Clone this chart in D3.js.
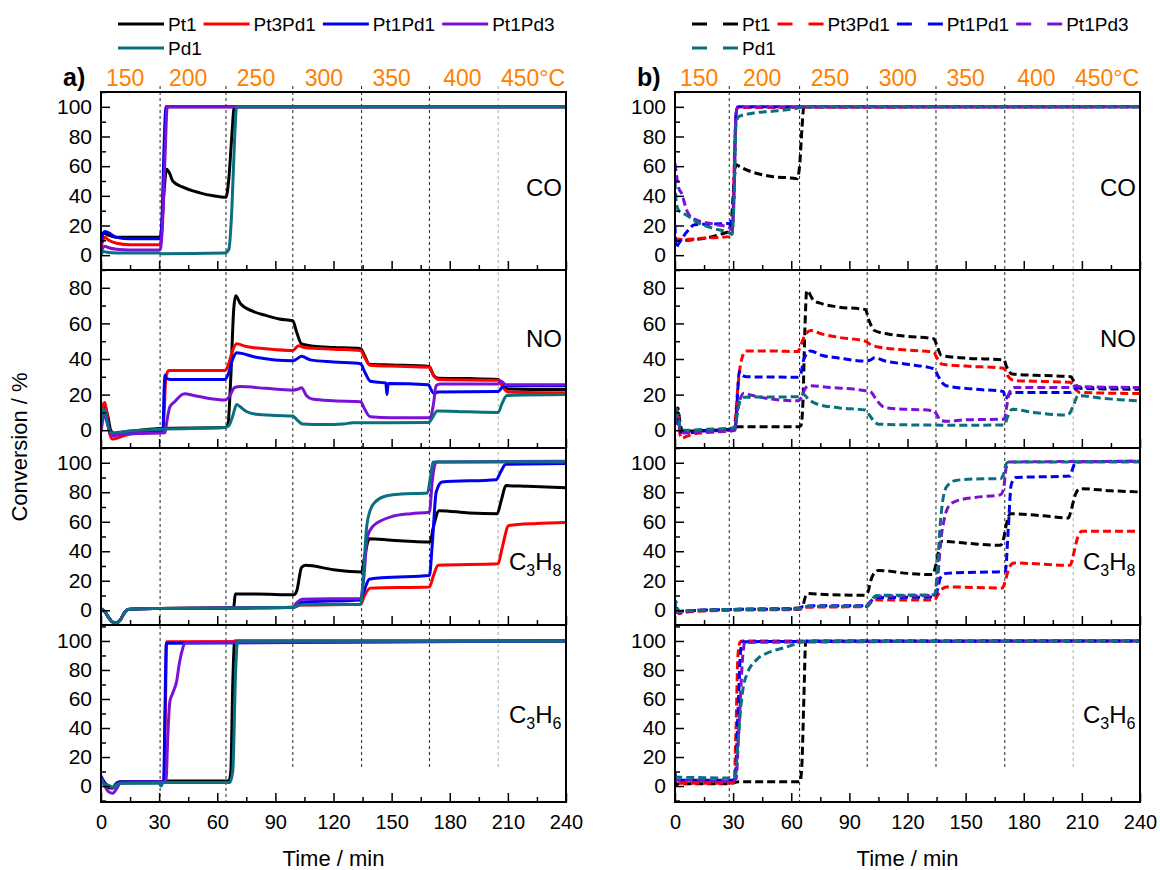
<!DOCTYPE html>
<html>
<head>
<meta charset="utf-8">
<script src="https://cdn.jsdelivr.net/npm/d3@7"></script>
<style>
  body { margin: 0; background: #fff; }
  svg { font-family: Arial, "Liberation Sans", sans-serif; }
</style>
</head>
<body>
<svg id="chart" width="1160" height="870"></svg>
<script>
// ---- data (time in min, conversion in %) ----

var seriesNames = ["Pt1", "Pt3Pd1", "Pt1Pd1", "Pt1Pd3", "Pd1"]
var seriesColors = ["#000000", "#ff0000", "#0000f0", "#7a12d6", "#0a7080"]

var timeTicks = [0, 30, 60, 90, 120, 150, 180, 210, 240]
var tempLabels = ["150", "200", "250", "300", "350", "400", "450°C"]
var tempAt = [12.5, 45, 80, 115, 150, 186.5, 223]   // minutes where each label sits

// dashed separators between temperature steps
var stepsA = [30.5, 64.5, 99, 134.5, 169.5, 205]
var stepsB = [28, 64.3, 99.2, 134.7, 170.2, 205.5]

// panel a) solid lines
var a_CO_Pt1 = [[0,10],[1,15],[3,14],[8,12],[15,12],[30,12],[31,14],[32.5,42],[33.8,58],[35.5,55],[37,50],[42,46],[51,42],[58,40],[64.5,39],[66,52],[67.5,80],[68.8,100],[240,100]]
var a_CO_Pt3Pd1 = [[0,5],[1,10],[2,12],[4,10],[8,8],[15,7],[30.5,7],[31.5,20],[32.8,70],[33.8,100],[240,100]]
var a_CO_Pt1Pd1 = [[0,8],[1,14],[2,16],[4,15],[8,12],[15,11],[30.5,11],[31.5,25],[32.6,75],[33.5,100],[240,100]]
var a_CO_Pt1Pd3 = [[0,2],[1,5],[2,6],[4,5],[8,4],[15,3.5],[30.5,3.5],[31.5,15],[33,65],[34.2,100],[240,100]]
var a_CO_Pd1 = [[0,0],[1,2.5],[3,2],[8,1.5],[30,1.5],[31,1],[64,1.5],[66,4],[67.5,30],[69,80],[70,100],[240,100]]

var a_NO_Pt1 = [[0,5],[1,12],[2,13],[3.5,8],[5,0],[7,-2],[12,-1],[20,0],[30,1],[64,1.5],[65.5,3],[67,30],[68.5,68],[69.5,75.5],[72,71],[78,67],[85,64.5],[92,62.5],[99,61.5],[101,55],[103.5,48.5],[110,47.2],[120,46.5],[134,45.8],[136,42],[138.5,37],[150,36.6],[169.5,35.8],[171.5,31],[174,29.2],[190,29],[205,28.5],[207,26],[210,23.2],[240,22.8]]
var a_NO_Pt3Pd1 = [[0,8],[1,14],[2,15.5],[3,10],[4.5,-2],[6,-5],[8,-4.5],[12,-3],[18,-1.5],[25,-0.8],[32,0],[32.6,10],[33.5,30],[35,33.5],[64,33.5],[65.5,36],[68,45],[70,48.5],[75,47],[85,45.8],[99,44.8],[102,47.5],[105,46.5],[120,45.5],[134,44.8],[136,41],[139,36.5],[150,36],[169.5,35.3],[171.5,31],[174,28.5],[205,28],[207,25],[210,21.5],[240,21]]
var a_NO_Pt1Pd1 = [[0,3],[1,8],[2,10],[3,7],[4.5,0],[6,-2],[10,-1.5],[20,-0.5],[32,0],[32.5,20],[33,31],[34,29],[36,28.5],[64,28.5],[65.5,31],[68,40],[70,43.5],[80,41],[99,39],[101,40],[103.5,41.5],[108,39.5],[120,38.3],[134,37.3],[136,33],[139,27.5],[147,26.5],[147.6,20],[148.2,26.2],[169,25.5],[170.5,22.5],[172,20.5],[174,21.5],[205,21.8],[207,24],[210,25],[240,25]]
var a_NO_Pt1Pd3 = [[0,-1],[1,6],[2,9],[3,5],[4.5,-1],[6,-3],[10,-2.5],[20,-1.8],[33,-1.5],[34,5],[35.5,13],[38,16],[43,20.5],[48,19.5],[55,18],[64,17],[66,18.5],[69,24],[72,24.5],[85,23.5],[99,22.5],[101.5,23],[103.5,23.8],[106,19.5],[109,17.5],[120,16.5],[134,16],[136,12],[139,7.5],[150,7],[170,7],[171.5,14],[173,25],[175,26],[205,26],[206.5,27.5],[209,25.5],[240,25.5]]
var a_NO_Pd1 = [[0,3],[0.8,12],[2,11],[3.5,3],[5,-1.5],[8,-1.3],[15,-0.5],[30,0.5],[64,1.5],[66,2.5],[68,8],[70,14.5],[72,13],[75,10.5],[80,9],[90,8.3],[99,8],[101,6],[104,3.5],[115,3.2],[125,3.5],[130,4.2],[169,4.3],[171,7],[173.5,10.8],[190,10.3],[205,10],[207,15],[209.5,19.5],[240,20]]

var a_C3H8_Pt1 = [[0,1],[2,-1],[4,-5],[6,-8],[8,-8.5],[10,-6.5],[12,-2],[14,0.5],[20,1],[30,1.2],[64,1.5],[68.5,2],[69.3,11],[80,11],[99.4,10.5],[101,13],[103.5,29],[105.5,30.5],[120,27.5],[134.5,26],[136,36],[138.5,48.5],[150,47.5],[169.8,46.3],[171.5,56],[174.5,67.5],[190,66],[204.5,65.5],[206.5,74],[209,84.5],[220,84],[240,83]]
var a_C3H8_Pt3Pd1 = [[0,1],[2,-1],[4,-5],[6,-8],[8,-8.5],[10,-6.5],[12,-2],[14,0.5],[20,1],[30,1.2],[64,1.5],[99,1.8],[103,3.5],[134,4],[136,10],[139,15],[169.5,15.8],[171.5,23],[174,30.5],[205,31.5],[207,42],[210.5,57.5],[225,58.8],[240,59.5]]
var a_C3H8_Pt1Pd1 = [[0,1],[2,-1],[4,-5],[6,-8],[8,-8.5],[10,-6.5],[12,-2],[14,0.5],[20,1],[30,1.2],[64,1.5],[99,2],[101,4],[104,5.5],[134,7],[135.5,12],[138.5,21],[145,22],[169.5,23.5],[171,45],[173,80],[176,87],[204,88.5],[206,93],[209,99],[240,99.5]]
var a_C3H8_Pt1Pd3 = [[0,1],[2,-1],[4,-5],[6,-8],[8,-8.5],[10,-6.5],[12,-2],[14,0.5],[20,1],[30,1.2],[64,1.5],[99,2],[101,5],[104,7.5],[134,8],[135.5,20],[137.5,50],[140.4,57],[145,61],[150,63.5],[160,65.5],[169.5,66.5],[171,88],[173,100.5],[240,101]]
var a_C3H8_Pd1 = [[0,1],[2,-1],[4,-5],[6,-8],[8,-8.5],[10,-6.5],[12,-2],[14,0.5],[20,1],[30,1.2],[64,1.5],[99,1.8],[101,3],[104,3.8],[134,4],[135.5,25],[137,55],[139,68],[142,74],[147,77.5],[155,78.8],[168.5,79.5],[170,90],[171.5,100.5],[240,100.5]]

var a_C3H6_Pt1 = [[0,6],[2,2],[4,-1],[6,-1.5],[8,1.5],[10,2.5],[30,2.5],[33,3.5],[66,3.5],[67,10],[68,70],[69,100],[240,100]]
var a_C3H6_Pt3Pd1 = [[0,5],[2,1],[4,0],[6,-1],[8,2],[10,3],[32.5,3],[33.2,50],[33.9,99.5],[240,100]]
var a_C3H6_Pt1Pd1 = [[0,7],[2,2],[4,0],[6,-1],[8,2],[10,3],[32.3,3],[33,50],[33.7,98.5],[240,100]]
var a_C3H6_Pt1Pd3 = [[0,6],[2,0],[4,-4],[6,-5],[8,-2],[10,2],[30,2.5],[33.5,3],[34.5,35],[35.5,58],[37,64],[39,72],[40.5,85],[42,94],[43.5,99],[240,100]]
var a_C3H6_Pd1 = [[0,5],[2,1],[4,0.5],[6,-1],[8,1],[10,2],[30,2],[31,0],[32,2.5],[66.5,2.5],[68,10],[69.5,80],[70.5,100],[240,100]]

// panel b) dashed lines
var b_CO_Pt1 = [[0,8],[1,10],[5,10],[10,10.5],[17,11.8],[24.8,14.6],[27.5,15.8],[29,22],[30.5,50],[31.5,61],[33,60],[36,58],[40,56],[50,53],[60,52],[63,51.5],[64.3,60],[65.5,85],[66.5,100],[240,100]]
var b_CO_Pt3Pd1 = [[0,12],[1,11],[5,10.5],[15,11.5],[28.5,12.5],[29.5,15],[31,80],[32,99.5],[240,100]]
var b_CO_Pt1Pd1 = [[0,20],[0.4,5],[1.5,7],[4,12],[7,17],[10,20.5],[20,21],[28.5,21.5],[30,30],[31.5,95],[32.5,100],[240,100]]
var b_CO_Pt1Pd3 = [[0,62],[1,52],[2,45],[3.4,41.7],[6,30.4],[8,26],[11.2,23.6],[19.8,21],[28,18.5],[29.5,17],[30.5,40],[31.5,95],[32.5,100],[240,100]]
var b_CO_Pd1 = [[0,50],[0.7,35],[2,30],[6,27],[11,22.5],[20,18],[28,15],[29.5,14],[30.5,40],[31.5,88],[33,93.5],[40,95.7],[50,97],[60,98.4],[65,99.5],[67,100],[240,100]]

var b_NO_Pt1 = [[0,3],[0.7,12],[1.5,12.5],[2.5,5],[4,-1],[8,-0.5],[20,0],[28,0.5],[30,1.5],[32,2],[64,2],[65,2.5],[66,15],[67,55],[68,78.5],[71.5,73],[76,71],[83.6,69.3],[98.3,67.8],[100,62],[103,56],[110,54],[118,52.9],[133.6,51.4],[135,48],[137.5,42],[150,40.5],[169.8,39.5],[171,36],[174,31.6],[190,30.7],[204.3,30.1],[206,27],[209,23.5],[240,23]]
var b_NO_Pt3Pd1 = [[0,3],[0.5,12],[1.5,10],[2.5,-2],[3.5,-4.5],[6,-3.5],[10,-2],[20,-1],[28,-0.5],[30,0],[31,5],[32.5,25],[34,38],[36.6,44.5],[50,44.5],[63.4,44.2],[65,48],[66.5,52],[69.9,56],[76,54],[83.6,52.3],[98.3,50],[101,48],[105,46.7],[120,45],[133.6,43.8],[135,41],[138,37],[150,36],[169.8,34.8],[171.5,31],[175,27.9],[190,27.4],[204,26.9],[206,24],[209,21.2],[240,20.6]]
var b_NO_Pt1Pd1 = [[0,3],[0.5,8],[1.5,6],[3,-1],[6,-1.5],[15,-0.5],[28,0],[31,0.5],[32,15],[33.2,33],[34.5,31],[37,30],[63.4,29.8],[65,32],[66.5,40],[69.9,44.5],[76,42],[83.6,40.7],[98.3,38.8],[101,39.5],[103,40.7],[108,39],[120,37],[133.6,34.5],[136,30],[138.5,26],[140,25],[155,23],[169.5,21.8],[170.5,17.5],[172,19.5],[174,21.2],[204,21.2],[206,22.5],[208,24],[240,24]]
var b_NO_Pt1Pd3 = [[0,3],[0.5,7],[1.5,6],[3,-1],[6,-1.5],[15,-1],[28,-0.5],[31,0],[32,10],[33.5,17],[35.5,20.7],[40,19.5],[50,17.5],[63.4,16.5],[65,18],[67,23],[69,25],[80,24],[98.3,22.2],[101,21.5],[104,17],[107,13.5],[110,12.5],[133.6,10.9],[135,9],[137,5.5],[140,5],[150,5.8],[170,6.2],[171,12],[172.5,21],[175,24],[205,24],[206.5,25],[209,24.5],[240,24]]
var b_NO_Pd1 = [[0,5],[0.5,12],[1.5,9],[3,0],[6,0],[15,0.5],[28,1],[31,1.5],[32,8],[33.5,16],[36,18.5],[63.4,18.8],[65,19],[66,20.3],[68,18.5],[70,16.5],[73.3,14.7],[85,12.5],[98.3,11.3],[100,9],[102,6],[105,3.4],[120,3],[150,2.8],[170,3],[171.5,7],[174,11.8],[185,10],[202.5,8.5],[204,10],[206,15],[208,19.4],[220,18],[240,16.5]]

var b_C3H8_Pt1 = [[0,1],[0.5,-1],[1,3],[2,-2],[5,-1],[15,0],[30,0.5],[64,1.5],[66,3],[67,8],[68.5,11.3],[80,10.5],[97.8,10.2],[99.5,12],[101,20],[103,25.5],[105,27],[120,25],[133,24.2],[134.5,30],[136,40],[138,46.7],[150,45.5],[168,44],[169.5,48],[171,58],[173,65.5],[190,64],[203,62.5],[204.5,68],[206.5,78],[209,82.4],[225,81],[240,80.2]]
var b_C3H8_Pt3Pd1 = [[0,0],[2,-2],[5,-1.5],[15,-0.5],[30,0],[64,0.5],[68,2],[99,2.5],[101,5],[104,7],[134,7],[135.5,10],[138,14.5],[140,15.8],[169,15.1],[170.5,20],[172.5,29],[175,32],[204,30.5],[205.5,37],[208,50],[210,53.5],[240,53.5]]
var b_C3H8_Pt1Pd1 = [[0,4],[0.5,-3],[1.5,-1],[5,-0.5],[30,0.5],[64,1],[66,2.5],[70,3],[99,3],[101,6],[104,8.5],[134,9],[135.5,14],[137,22],[140,25],[170.5,26.4],[172,55],[173.5,85],[176,90],[204,91],[205,95],[207,100.5],[240,101]]
var b_C3H8_Pt1Pd3 = [[0,0],[2,-1.5],[5,-0.5],[30,0.5],[64,1],[68,2.5],[99,3],[101,6],[104,9.5],[134,10],[135.5,20],[137,45],[139,62],[141,70],[145,74],[155,76.5],[168,78.3],[169.5,82],[171,97],[172.5,100.5],[240,101]]
var b_C3H8_Pd1 = [[0,2],[0.5,6],[1.5,-1],[5,-0.5],[30,0.5],[64,1],[68,2.5],[99,2.5],[101,6],[104,10],[134,10.5],[135,20],[137,60],[139,80],[141,85],[145,88],[155,89],[168,89.2],[169.5,92],[171,99.5],[172.5,100.5],[240,100.5]]

var b_C3H6_Pt1 = [[0,4],[0.5,1],[2,1.5],[28,1.5],[31,2.5],[33,3],[64.5,3],[65.5,15],[66.5,60],[67.5,100],[240,100]]
var b_C3H6_Pt3Pd1 = [[0,8],[0.5,2],[2,2],[28,2],[30.5,2.5],[31.5,40],[32.5,90],[33.5,99],[34.5,100],[240,100]]
var b_C3H6_Pt1Pd1 = [[0,10],[0.5,4],[2,4],[29,4],[31,5],[32.5,50],[34,95],[35,99.5],[240,100]]
var b_C3H6_Pt1Pd3 = [[0,6],[0.5,4],[2,4],[29,3.5],[31.5,5],[33,40],[35,90],[36,99],[240,100]]
var b_C3H6_Pd1 = [[0,7],[0.5,6],[2,6],[29,5.5],[31,6],[32.5,30],[34,55],[35.5,70],[37.1,77],[42.3,87.3],[49,92.4],[56,95.2],[63.8,98.7],[66,99.7],[240,100]]

// ---- layout ----
var colX = [[101, 566], [675, 1140]]
var rowY = [[92, 270], [270, 448], [448, 625], [625, 802]]

var panels = [
    { gas: "CO", domain: [-10, 110], ticks: [0, 20, 40, 60, 80, 100],
      a: [a_CO_Pt1, a_CO_Pt3Pd1, a_CO_Pt1Pd1, a_CO_Pt1Pd3, a_CO_Pd1],
      b: [b_CO_Pt1, b_CO_Pt3Pd1, b_CO_Pt1Pd1, b_CO_Pt1Pd3, b_CO_Pd1] },
    { gas: "NO", domain: [-10, 90], ticks: [0, 20, 40, 60, 80],
      a: [a_NO_Pt1, a_NO_Pt3Pd1, a_NO_Pt1Pd1, a_NO_Pt1Pd3, a_NO_Pd1],
      b: [b_NO_Pt1, b_NO_Pt3Pd1, b_NO_Pt1Pd1, b_NO_Pt1Pd3, b_NO_Pd1] },
    { gas: "C3H8", domain: [-10, 110], ticks: [0, 20, 40, 60, 80, 100],
      a: [a_C3H8_Pt1, a_C3H8_Pt3Pd1, a_C3H8_Pt1Pd1, a_C3H8_Pt1Pd3, a_C3H8_Pd1],
      b: [b_C3H8_Pt1, b_C3H8_Pt3Pd1, b_C3H8_Pt1Pd1, b_C3H8_Pt1Pd3, b_C3H8_Pd1] },
    { gas: "C3H6", domain: [-11, 111], ticks: [0, 20, 40, 60, 80, 100],
      a: [a_C3H6_Pt1, a_C3H6_Pt3Pd1, a_C3H6_Pt1Pd1, a_C3H6_Pt1Pd3, a_C3H6_Pd1],
      b: [b_C3H6_Pt1, b_C3H6_Pt3Pd1, b_C3H6_Pt1Pd1, b_C3H6_Pt1Pd3, b_C3H6_Pd1] }
]

var svg = d3.select("#chart")
var defs = svg.append("defs")
var FONT = "Arial, 'Liberation Sans', sans-serif"

function gasLabel(sel, gas) {
    // CO / NO plain, hydrocarbons with subscripts
    if (gas.indexOf("C3") != 0) { sel.text(gas); return }
    sel.append("tspan").text("C")
    sel.append("tspan").attr("dy", 6).attr("font-size", 16).text("3")
    sel.append("tspan").attr("dy", -6).text("H")
    sel.append("tspan").attr("dy", 6).attr("font-size", 16).text(gas.slice(3))
}

function drawColumn(ci, key, dashed, tag, steps) {
    var x0 = colX[ci][0], x1 = colX[ci][1]
    var x = d3.scaleLinear().domain([0, 240]).range([x0, x1])

    // dashed separators of the temperature steps
    steps.forEach(function (s, i) {
        svg.append("line")
            .attr("x1", x(s)).attr("x2", x(s))
            .attr("y1", 86).attr("y2", i < 2 ? 802 : 770)
            .attr("stroke", i == steps.length - 1 ? "#aaaaaa" : "#222")
            .attr("stroke-width", 1)
            .attr("stroke-dasharray", "3,3")
    })

    panels.forEach(function (p, pi) {
        var yt = rowY[pi][0], yb = rowY[pi][1]
        var y = d3.scaleLinear().domain(p.domain).range([yb, yt])
        var clipId = "clip" + ci + pi
        defs.append("clipPath").attr("id", clipId)
            .append("rect").attr("x", x0).attr("y", yt).attr("width", x1 - x0).attr("height", yb - yt)

        var line = d3.line()
            .x(function (d) { return x(d[0]) })
            .y(function (d) { return y(d[1]) })
            .curve(d3.curveMonotoneX)

        var g = svg.append("g").attr("clip-path", "url(#" + clipId + ")")
        p[key].forEach(function (pts, si) {
            g.append("path")
                .attr("d", line(pts))
                .attr("fill", "none")
                .attr("stroke", seriesColors[si])
                .attr("stroke-width", 3)
                .attr("stroke-linejoin", "round")
                .attr("stroke-dasharray", dashed ? "8,4" : null)
        })

        // y axis: major + minor ticks pointing inwards
        var minor = d3.range(-10, p.domain[1] + 0.1, 10)
            .filter(function (v) { return p.ticks.indexOf(v) < 0 && v > p.domain[0] })
        svg.append("g").attr("transform", "translate(" + x0 + ",0)")
            .call(d3.axisLeft(y).tickValues(minor).tickSize(-5).tickFormat(""))
        var ya = svg.append("g").attr("transform", "translate(" + x0 + ",0)")
            .call(d3.axisLeft(y).tickValues(p.ticks).tickSize(-9).tickPadding(9))
        ya.selectAll("text").attr("font-size", 21).attr("font-family", FONT).attr("fill", "#000")

        // x axis ticks at the bottom of every panel
        svg.append("g").attr("transform", "translate(0," + yb + ")")
            .call(d3.axisBottom(x).tickValues(d3.range(15, 240, 30)).tickSize(-5).tickFormat(""))
        var xa = svg.append("g").attr("transform", "translate(0," + yb + ")")
            .call(d3.axisBottom(x).tickValues(timeTicks).tickSize(-9).tickPadding(13))
        if (pi < panels.length - 1) xa.selectAll("text").remove()
        xa.selectAll("text").attr("font-size", 20).attr("font-family", FONT).attr("fill", "#000")

        svg.selectAll(".domain").remove()
        svg.selectAll(".tick line").attr("stroke", "#000").attr("stroke-width", 1.5)

        // frame
        svg.append("rect")
            .attr("x", x0).attr("y", yt).attr("width", x1 - x0).attr("height", yb - yt)
            .attr("fill", "none").attr("stroke", "#000").attr("stroke-width", 2)

        var lbY = [196, 347, 570, 723][pi]
        var lb = svg.append("text")
            .attr("x", p.gas.length > 2 ? x0 + 408 : x0 + 443)
            .attr("y", lbY)
            .attr("text-anchor", p.gas.length > 2 ? "start" : "middle")
            .attr("font-size", 24)
        gasLabel(lb, p.gas)
    })

    // temperatures on top
    tempLabels.forEach(function (t, i) {
        svg.append("text")
            .attr("x", x(tempAt[i])).attr("y", 86)
            .attr("text-anchor", "middle")
            .attr("font-size", 23)
            .attr("fill", "#ff8000")
            .text(t)
    })

    svg.append("text")
        .attr("x", x0 - 38).attr("y", 86)
        .attr("font-size", 25).attr("font-weight", "bold")
        .text(tag)

    svg.append("text")
        .attr("x", (x0 + x1) / 2).attr("y", 866)
        .attr("text-anchor", "middle")
        .attr("font-size", 22)
        .text("Time / min")

    // legend: line sample + name, flowing left to right, 4 per row
    var lx = x0 + 17
    seriesNames.forEach(function (n, i) {
        if (i == 4) lx = x0 + 17
        var ly = i < 4 ? 24 : 48
        svg.append("line")
            .attr("x1", lx).attr("x2", lx + 46)
            .attr("y1", ly).attr("y2", ly)
            .attr("stroke", seriesColors[i]).attr("stroke-width", 3)
            .attr("stroke-dasharray", dashed ? "15,16" : null)
        var t = svg.append("text")
            .attr("x", lx + 50).attr("y", ly + 7)
            .attr("font-size", 19)
            .text(n)
        lx = lx + 50 + t.node().getComputedTextLength() + 7
    })
}

drawColumn(0, "a", false, "a)", stepsA)
drawColumn(1, "b", true, "b)", stepsB)

svg.append("text")
    .attr("transform", "translate(27,447) rotate(-90)")
    .attr("text-anchor", "middle")
    .attr("font-size", 22)
    .text("Conversion / %")
</script>
</body>
</html>
